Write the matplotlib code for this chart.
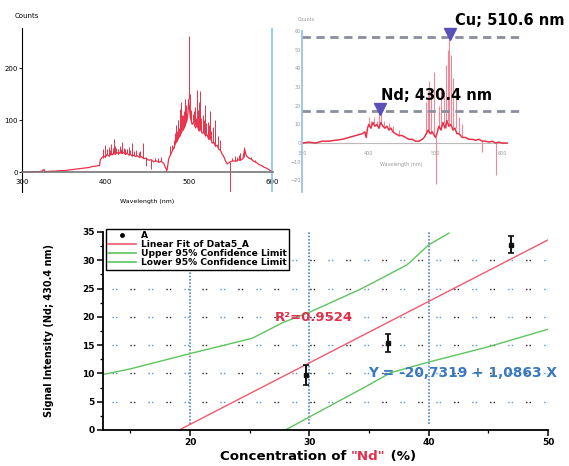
import numpy as np
import matplotlib.pyplot as plt
from matplotlib.lines import Line2D
from matplotlib.ticker import MultipleLocator

# --- top-left spectrum (counts vs wavelength)
spec1_nm = [300, 305, 310, 315, 320, 324, 326, 328, 335, 340,
            345, 350, 355, 360, 365, 370, 375, 380, 385, 390,
            393, 394, 396, 398, 400, 402, 404, 406, 408, 410,
            412, 414, 416, 418, 420, 422, 424, 426, 428, 430,
            432, 434, 436, 438, 440, 443, 446, 449, 452, 455,
            458, 461, 464, 467, 470, 472, 474, 476, 478, 480,
            482, 484, 486, 488, 490, 492, 494, 496, 498, 499,
            500, 501, 502, 504, 506, 508, 510, 512, 514, 516,
            518, 520, 522, 524, 526, 528, 530, 532, 534, 536,
            538, 540, 542, 544, 546, 548, 550, 553, 556, 559,
            562, 565, 567, 569, 572, 575, 578, 581, 584, 587,
            590, 593, 596, 600]
spec1_counts = [0, 1, 0, 1, 1, 2, 5, 1, 2, 2,
                3, 3, 4, 5, 6, 7, 8, 9, 11, 12,
                13, 24, 28, 31, 29, 34, 31, 36, 33, 37,
                34, 38, 35, 39, 36, 38, 34, 37, 33, 35,
                31, 33, 30, 32, 29, 30, 26, 27, 23, 24,
                20, 22, 19, 21, 17, 9, 4, 26, 33, 40,
                47, 55, 60, 68, 72, 80, 84, 92, 100, 115,
                140, 118, 104, 92, 96, 85, 90, 80, 84, 75,
                78, 70, 72, 63, 66, 56, 58, 50, 52, 44,
                42, 35, 30, 22, 16, 18, 20, 22, 21, 24,
                23, 26, 44, 32, 27, 25, 21, 19, 15, 13,
                10, 8, 5, 1]
spike1_nm = [326, 397, 399, 400, 402, 404, 405, 407, 409, 410, 411, 413, 415, 417, 419,
             420, 422, 424, 426, 428, 430, 432, 434, 437, 440, 442, 445,
             449, 455, 460, 463, 467, 473, 478, 480, 482, 484, 485, 486, 487, 488,
             489, 490, 491, 492, 493, 494, 495, 496, 497,
             500, 502, 503, 505, 506, 507, 509, 510, 511, 512, 513, 514, 515, 517,
             518, 520, 521, 523, 524, 526, 527, 529, 531, 532, 535,
             538, 549, 552, 555, 558, 560, 562, 566, 575, 580]
spike1_lo = [1, 28, 30, 29, 34, 31, 33, 34, 35, 37, 36, 36, 35, 37, 37,
             36, 38, 34, 37, 33, 35, 31, 33, 31, 29, 30, 28,
             27, 24, 21, 20, 21, 6, 33, 40, 47, 55, 58, 60, 64, 68,
             70, 72, 76, 80, 82, 84, 88, 92, 96,
             140, 104, 98, 94, 96, 90, 88, 90, 85, 80, 82, 84, 80, 76,
             78, 70, 71, 66, 64, 66, 60, 57, 54, 50, 48,
             42, 19, 21, 21, 22, 23, 23, 30, 25, 19]
spike1_hi = [6, 45, 40, 52, 44, 48, 42, 55, 46, 64, 50, 46, 44, 50, 45,
             58, 47, 45, 44, 48, 43, 57, 40, 42, 38, 40, 56,
             12, 6, 27, 28, 30, 0, 50, 52, 62, 75, 90, 80, 100, 85,
             122, 95, 135, 110, 110, 118, 140, 115, 130,
             262, 150, 120, 112, 118, 126, 105, 158, 120, 135, 110, 155, 105, 110,
             100, 130, 95, 96, 90, 118, 80, 86, 75, 100, 70,
             62, -38, 28, 32, 30, 33, 36, 48, 30, 24]

# --- top-right spectrum
spec2_nm = [300, 310, 320, 330, 340, 350, 360, 370, 380, 385,
            390, 394, 396, 398, 400, 403, 406, 409, 412, 415,
            418, 421, 424, 427, 430, 433, 436, 440, 445, 450,
            455, 460, 465, 470, 475, 480, 483, 486, 489, 492,
            495, 498, 500, 502, 505, 508, 511, 514, 517, 520,
            523, 526, 529, 532, 535, 540, 545, 550, 555, 560,
            565, 570, 575, 580, 585, 590, 595, 600, 607]
spec2_counts = [0, 0.5, 0, 1, 1, 1.5, 2, 3, 4, 4.5,
                5, 6, 3, 8, 10, 8, 11, 9, 10, 8,
                11, 9, 8, 9, 7, 8, 6, 5, 4, 4,
                3, 2, 2, 1, 1, 2, 3, 5, 7, 5,
                6, 4, 3, 5, 9, 7, 11, 8, 12, 9,
                10, 7, 8, 5, 5, 3, 3, 2, 2, 1.5,
                2, 1, 1, 0.5, 1, 0, 0.5, 0, 0]
spike2_nm = [400, 403, 408, 412, 415, 418, 423, 430, 436, 445, 485, 488, 490, 493, 497,
             501, 505, 508, 512, 515, 518, 520, 523, 526, 530, 535, 540, 570, 591]
spike2_lo = [10, 8, 10, 10, 8, 11, 8, 7, 6, 4, 5, 6, 7, 5, 4,
             3, 9, 7, 11, 8, 12, 9, 10, 7, 8, 5, 3, 1, 0]
spike2_hi = [14, 12, 14, 12, 16, 19, 12, 11, 9, 7, 22, 28, 33, 25, 38,
             -22, 20, 30, 28, 42, 50, 58, 47, 35, 24, 14, 10, -5, -17]
marker_lines = [57, 17]
marker_nm = [522, 417]
marker_labels = ['Cu; 510.6 nm', 'Nd; 430.4 nm']

# --- calibration plot
conc = [29.7, 36.6, 46.9]
signal = [9.7, 15.4, 32.7]
signal_err = [1.8, 1.6, 1.5]
fit_intercept = -20.7319
fit_slope = 1.0863
upper_x = [12.7, 15, 20, 25.2, 27.8, 30, 34.1, 35.4, 38.2, 40, 41.7]
upper_y = [9.8, 10.8, 13.5, 16.2, 19.0, 20.8, 24.7, 26.1, 29.2, 32.7, 34.8]
lower_x = [28.0, 30, 34.5, 36.8, 40, 45, 50]
lower_y = [0, 2.3, 7.4, 10.1, 12.0, 14.7, 17.8]

RED = '#e8324a'
fig = plt.figure(figsize=(5.69, 4.66), dpi=100)
fig.patch.set_facecolor('white')

# ---------- left spectrum
ax1 = fig.add_axes([0.0387, 0.588, 0.441, 0.352])
ax1.plot(spec1_nm, spec1_counts, color=RED, lw=0.9)
ax1.vlines(spike1_nm, spike1_lo, spike1_hi, color=RED, lw=0.7)
ax1.axvline(600, color='#8cc0e8', lw=1.2)
ax1.set_xlim(300, 601)
ax1.set_ylim(-38, 277)
for s in ['top', 'right']:
    ax1.spines[s].set_visible(False)
ax1.spines['bottom'].set_position(('data', 0))
ax1.spines['bottom'].set_color('#777777')
ax1.spines['bottom'].set_linewidth(1.2)
ax1.spines['left'].set_linewidth(0.8)
ax1.set_xticks([300, 400, 500, 600])
ax1.set_yticks([0, 100, 200])
ax1.tick_params(axis='both', labelsize=5, length=2, width=0.6, pad=1)
ax1.tick_params(axis='x', length=0, pad=5)
ax1.text(-0.03, 1.06, 'Counts', transform=ax1.transAxes, fontsize=5, ha='left')
ax1.text(0.5, -0.04, 'Wavelength (nm)', transform=ax1.transAxes, fontsize=4.5,
         ha='center', va='top')

# ---------- right spectrum
ax2 = fig.add_axes([0.531, 0.588, 0.387, 0.3455])
ax2.axhline(0, color='#bbbbbb', lw=0.8, xmax=0.93)
ax2.vlines(spike2_nm, spike2_lo, spike2_hi, color='#f08898', lw=0.8)
ax2.plot(spec2_nm, spec2_counts, color=RED, lw=1.1)
for yv in marker_lines:
    ax2.axhline(yv, color='#8a8e9c', lw=2, ls=(0, (3, 2)), xmax=0.985)
ax2.plot(marker_nm, [v + 1.5 for v in marker_lines], 'v', color='#5b50b8',
         ms=8, clip_on=False)
ax2.text(marker_nm[0] + 7, marker_lines[0] + 8.5, marker_labels[0], fontsize=10.5,
         fontweight='bold', va='center', ha='left', clip_on=False)
ax2.text(marker_nm[1] + 1, marker_lines[1] + 8.5, marker_labels[1], fontsize=10.5,
         fontweight='bold', va='center', ha='left', clip_on=False)
ax2.set_xlim(300, 630)
ax2.set_ylim(-26.2, 60)
for s in ['top', 'right', 'bottom']:
    ax2.spines[s].set_visible(False)
ax2.spines['left'].set_color('#8cc0e8')
ax2.spines['left'].set_linewidth(1.2)
ax2.set_xticks([300, 400, 500, 600])
ax2.set_yticks([-20, -10, 0, 10, 20, 30, 40, 50, 60])
ax2.tick_params(axis='both', labelsize=3.5, length=0, labelcolor='#999999', pad=1)
ax2.tick_params(axis='x', pad=-29.5)
ax2.text(-0.02, 1.06, 'Counts', transform=ax2.transAxes, fontsize=3.5,
         color='#999999', ha='left')
ax2.text(0.45, 0.17, 'Wavelength (nm)', transform=ax2.transAxes, fontsize=3.5,
         color='#999999', ha='center', va='center')

# ---------- calibration plot
ax3 = fig.add_axes([0.181, 0.0773, 0.782, 0.425])
for yv in [5, 10, 15, 20, 25, 30]:
    ax3.axhline(yv, color='#5a92d0', lw=1.0, ls=(0, (1, 1.5, 1, 22.4)), xmin=0.02)
    ax3.axhline(yv, color='#222222', lw=1.0, ls=(13, (1, 1.5, 1, 22.4)), xmin=0.02)
for xv in [20, 30, 40]:
    ax3.axvline(xv, color='#4a86c8', lw=1.2, ls=(0, (1, 1)), ymin=0.03)

xfit = np.array([12.7, 50])
ax3.plot(xfit, fit_intercept + fit_slope * xfit, color='#ee5a6e', lw=1.0)
ax3.plot(upper_x, upper_y, color='#5ec45e', lw=1.0)
ax3.plot(lower_x, lower_y, color='#5ec45e', lw=1.0)
ax3.errorbar(conc, signal, yerr=signal_err, fmt='s', color='#111111', ms=3.5,
             capsize=2.5, elinewidth=1.4, capthick=1.2, zorder=5)

ax3.set_xlim(12.7, 50)
ax3.set_ylim(0, 35)
for s in ['top', 'right']:
    ax3.spines[s].set_visible(False)
for s in ['left', 'bottom']:
    ax3.spines[s].set_linewidth(1.3)
ax3.set_xticks([20, 30, 40, 50])
ax3.set_yticks([0, 5, 10, 15, 20, 25, 30, 35])
ax3.xaxis.set_minor_locator(MultipleLocator(5))
ax3.yaxis.set_minor_locator(MultipleLocator(2.5))
ax3.tick_params(axis='both', which='major', direction='out', length=4, width=1.1,
                labelsize=6.5, pad=2)
ax3.tick_params(axis='both', which='minor', direction='out', length=2.5, width=0.9)
for lab in ax3.get_xticklabels() + ax3.get_yticklabels():
    lab.set_fontweight('bold')

ax3.text(27.1, 19.8, 'R²=0.9524', color='#e0304a', fontsize=9.5, fontweight='bold',
         va='center', ha='left')
ax3.text(34.9, 10.1, 'Y = -20,7319 + 1,0863 X', color='#3a78c0', fontsize=9.9,
         fontweight='bold', va='center', ha='left', clip_on=False)

ax3.set_ylabel('Signal Intensity (Nd; 430.4 nm)', fontsize=7, fontweight='bold',
               family=['Liberation Sans Narrow', 'DejaVu Sans'], labelpad=20)

t1 = fig.text(220 / 569, 1 - 463 / 466, 'Concentration of ', fontsize=9.6,
              fontweight='bold', ha='left', va='bottom')
t2 = fig.text(0, 0, '"Nd"', fontsize=9.6, fontweight='bold', color='#e0304a',
              ha='left', va='bottom')
t3 = fig.text(0, 0, ' (%)', fontsize=9.6, fontweight='bold', ha='left', va='bottom')
fig.canvas.draw()
r = fig.canvas.get_renderer()
bb1 = t1.get_window_extent(r)
t2.set_position(fig.transFigure.inverted().transform((bb1.x1, bb1.y0)))
fig.canvas.draw()
bb2 = t2.get_window_extent(r)
t3.set_position(fig.transFigure.inverted().transform((bb2.x1, bb2.y0)))

handles = [Line2D([], [], ls='none', marker='o', color='black', ms=2.5),
           Line2D([], [], color='#ee5a6e', lw=1.2),
           Line2D([], [], color='#5ec45e', lw=1.2),
           Line2D([], [], color='#5ec45e', lw=1.2)]
labels = ['A', 'Linear Fit of Data5_A', 'Upper 95% Confidence Limit',
          'Lower 95% Confidence Limit']
leg = fig.legend(handles, labels, loc='upper left',
                 bbox_to_anchor=(106 / 569, 1 - 229 / 466),
                 prop={'weight': 'bold', 'size': 6.6}, fancybox=False,
                 edgecolor='black', framealpha=1, borderpad=0.25, labelspacing=0.0,
                 handlelength=3.0, handletextpad=0.6, borderaxespad=0)
leg.get_frame().set_linewidth(1.0)

fig.savefig('out.png', dpi=100)
